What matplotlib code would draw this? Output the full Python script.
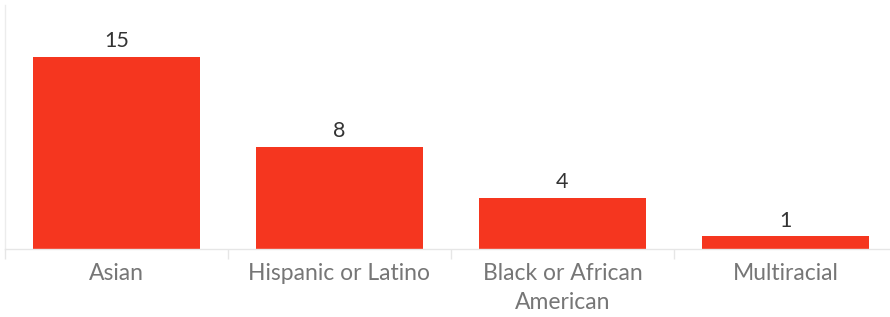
import matplotlib.pyplot as plt

# données
categories = ['Asian', 'Hispanic or Latino', 'Black or African\nAmerican', 'Multiracial']
counts = [15, 8, 4, 1]

W, H = 890, 317
fig = plt.figure(figsize=(W / 100, H / 100), dpi=100)

# axe : de x=5 à 897 px (dernière catégorie coupée), de y=5 à 249 px
x0, x1 = 5, 897
y_top, y_base = 5, 249
ax = fig.add_axes([x0 / W, 1 - y_base / H, (x1 - x0) / W, (y_base - y_top) / H])

px_per_unit = 12.8
ax.set_xlim(-0.5, len(categories) - 0.5)
ax.set_ylim(0, (y_base - y_top) / px_per_unit)

pos = range(len(categories))
ax.bar(pos, counts, width=0.75, color='#F5361F', zorder=2)

for i, v in enumerate(counts):
    ax.annotate(str(v), (i, v), xytext=(0, 4), textcoords='offset points',
                ha='center', va='bottom', fontsize=15.5, color='#333333', family='Lato')

for s in ['top', 'right']:
    ax.spines[s].set_visible(False)
ax.spines['left'].set_color('#ececec')
ax.spines['bottom'].set_color('#e6e6e6')
ax.spines['left'].set_linewidth(1)
ax.spines['bottom'].set_linewidth(1)

ax.set_yticks([])
# séparateurs de catégories
ax.set_xticks([i - 0.5 for i in range(len(categories) + 1)])
ax.set_xticklabels([])
ax.tick_params(axis='x', length=7, color='#e6e6e6', width=1)
ax.set_xticks(list(pos), minor=True)
ax.set_xticklabels(categories, minor=True, fontsize=16.5, color='#767676', family='Lato',
                   linespacing=1.45)
ax.tick_params(axis='x', which='minor', length=0, pad=10)

fig.savefig('out.png', dpi=100)
